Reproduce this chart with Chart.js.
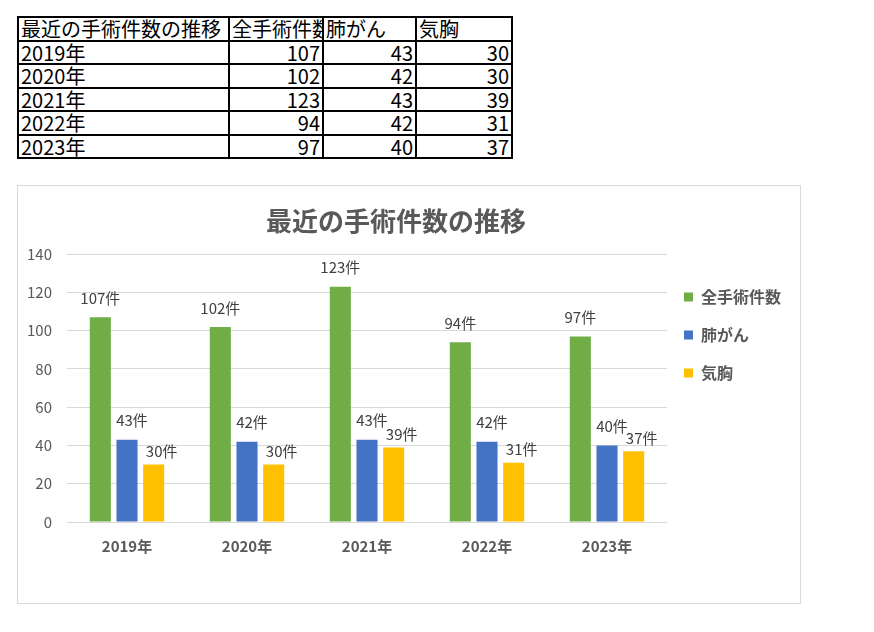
<!DOCTYPE html>
<html lang="ja">
<head>
<meta charset="utf-8">
<script src="https://cdn.jsdelivr.net/npm/chart.js@4.4.1/dist/chart.umd.min.js"></script>
<style>
  body {
    margin: 0;
    background: #fff;
    width: 874px;
    height: 632px;
    position: relative;
    overflow: hidden;
    font-family: "Noto Sans CJK JP", sans-serif;
  }
  #data-table {
    position: absolute;
    left: 17px;
    top: 16px;
    width: 494px;
    border-collapse: collapse;
    table-layout: fixed;
    font-size: 20px;
    color: #000;
  }
  #data-table td {
    border: 2px solid #000;
    height: 21.5px;
    line-height: 21px;
    padding: 0 2px;
    white-space: nowrap;
    overflow: hidden;
  }
  #data-table td.num { text-align: right; }
  #chart-box {
    position: absolute;
    left: 17px;
    top: 185px;
    width: 782px;
    height: 417px;
    border: 1px solid #d9d9d9;
  }
</style>
</head>
<body>
<table id="data-table"></table>
<div id="chart-box"><canvas id="chart" width="782" height="417"></canvas></div>

<script>
const chartTitle = '最近の手術件数の推移';
const years = ['2019年', '2020年', '2021年', '2022年', '2023年'];
const seriesNames = ['全手術件数', '肺がん', '気胸'];
const totalSurgeries = [107, 102, 123, 94, 97];
const lungCancer = [43, 42, 43, 42, 40];
const pneumothorax = [30, 30, 39, 31, 37];
const unit = '件';

const seriesValues = [totalSurgeries, lungCancer, pneumothorax];
const seriesColors = ['#70AD47', '#4472C4', '#FFC000'];
const FONT = '"Noto Sans CJK JP", sans-serif';

// Spreadsheet table above the chart
const table = document.getElementById('data-table');
let html = '<colgroup><col style="width:211px"><col style="width:94px"><col style="width:93px"><col style="width:96px"></colgroup>';
html += '<tr><td>' + chartTitle + '</td>' + seriesNames.map(n => '<td>' + n + '</td>').join('') + '</tr>';
years.forEach((y, i) => {
  html += '<tr><td>' + y + '</td>' + seriesValues.map(v => '<td class="num">' + v[i] + '</td>').join('') + '</tr>';
});
table.innerHTML = html;

// Value labels above each bar ("107件" etc.)
const barLabels = {
  id: 'barLabels',
  afterDatasetsDraw(chart) {
    const ctx = chart.ctx;
    ctx.save();
    ctx.font = '15px ' + FONT;
    ctx.fillStyle = '#404040';
    ctx.textAlign = 'center';
    ctx.textBaseline = 'middle';
    chart.data.datasets.forEach((ds, i) => {
      const meta = chart.getDatasetMeta(i);
      meta.data.forEach((bar, j) => {
        ctx.fillText(ds.data[j] + unit, bar.x + ds.labelDx, bar.y + ds.labelDy);
      });
    });
    ctx.restore();
  }
};

// Fixed legend width, then nudge legend and title so they sit like the original
const legendPlace = {
  id: 'legendPlace',
  beforeInit(chart) {
    const fit = chart.legend.fit;
    chart.legend.fit = function () {
      fit.call(this);
      this.width = 125;
    };
  },
  afterLayout(chart) {
    const lg = chart.legend;
    lg.left -= 5; lg.right -= 5;
    lg.top += 81; lg.bottom += 81;
    chart.titleBlock.right -= 18;
  }
};

const labelShift = [[0, -19], [5, -19], [8, -13]];

new Chart(document.getElementById('chart'), {
  type: 'bar',
  data: {
    labels: years,
    datasets: seriesNames.map((name, i) => ({
      label: name,
      data: seriesValues[i],
      backgroundColor: seriesColors[i],
      borderWidth: 0,
      categoryPercentage: 0.667,
      barPercentage: 0.79,
      labelDx: labelShift[i][0],
      labelDy: labelShift[i][1]
    }))
  },
  options: {
    responsive: false,
    animation: false,
    layout: { padding: { left: 0, right: 8, top: 0, bottom: 41 } },
    scales: {
      x: {
        grid: { display: false, drawTicks: false },
        border: { display: false },
        ticks: { color: '#595959', font: { family: FONT, size: 15, weight: 'bold' }, padding: 15 },
        afterFit(scale) { scale.height = 40; }
      },
      y: {
        min: 0,
        max: 140,
        ticks: { stepSize: 20, color: '#595959', font: { family: FONT, size: 15 }, padding: 15 },
        grid: { color: '#d9d9d9', lineWidth: 1, drawTicks: false },
        border: { display: false },
        afterFit(scale) { scale.width = 49; }
      }
    },
    plugins: {
      title: {
        display: true,
        text: chartTitle,
        color: '#595959',
        font: { family: FONT, size: 26, weight: 'bold' },
        padding: { top: 20, bottom: 17 }
      },
      legend: {
        position: 'right',
        align: 'start',
        labels: {
          color: '#595959',
          font: { family: FONT, size: 16, weight: 'bold' },
          boxWidth: 9,
          boxHeight: 9,
          padding: 22
        }
      },
      tooltip: { enabled: false }
    }
  },
  plugins: [barLabels, legendPlace]
});
</script>
</body>
</html>
